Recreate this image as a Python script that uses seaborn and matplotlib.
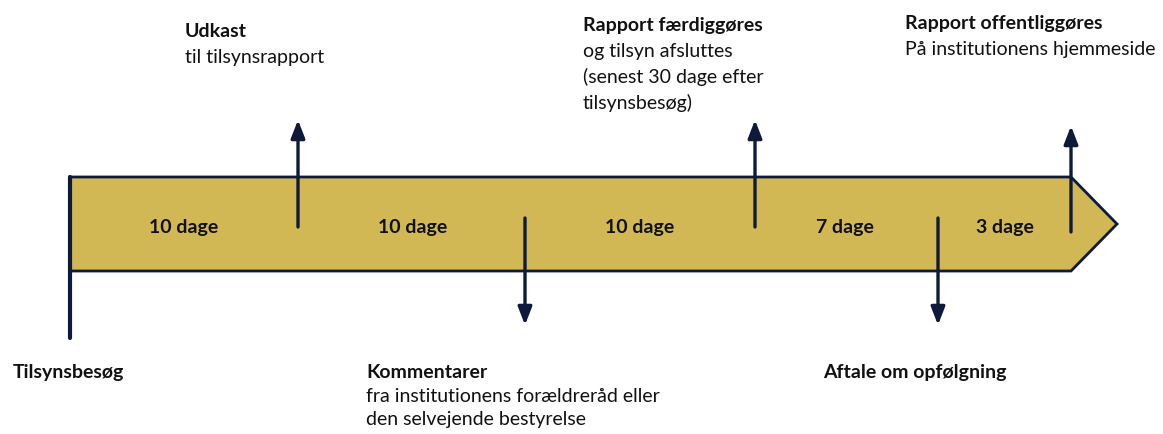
import matplotlib
matplotlib.use("Agg")
import matplotlib.pyplot as plt
import seaborn as sns
from matplotlib.patches import Polygon

sns.set_theme(style="white")
plt.rcParams['font.family'] = ['Lato', 'DejaVu Sans']

# --- data ---
segment_labels = ["10 dage", "10 dage", "10 dage", "7 dage", "3 dage"]
segment_centers = [184, 413, 640, 845, 1005]
event_x = [70, 298, 525, 755, 938, 1071]
event_dir = ["none", "up", "down", "up", "down", "up"]
event_titles = ["Tilsynsbesøg", "Udkast", "Kommentarer", "Rapport færdiggøres",
                "Aftale om opfølgning", "Rapport offentliggøres"]
event_texts = [[], ["til tilsynsrapport"],
               ["fra institutionens forældreråd eller", "den selvejende bestyrelse"],
               ["og tilsyn afsluttes", "(senest 30 dage efter", "tilsynsbesøg)"],
               [], ["På institutionens hjemmeside"]]
event_text_x = [13, 185, 366, 583, 823, 905]
event_text_base = [378, 37, 378, 31, 378, 29]

GOLD = "#D1B854"
NAVY = "#0E1A3A"
TXT = "#111111"
FS = 14

W, H = 1163, 434
fig = plt.figure(figsize=(W / 100, H / 100), dpi=100)
ax = fig.add_axes([0, 0, 1, 1])
ax.set_xlim(0, W)
ax.set_ylim(H, 0)
ax.axis("off")

top, bot, tip = 177, 271, 1117
start, end = event_x[0], event_x[-1]
mid = (top + bot) / 2

body = Polygon([(start, top), (end, top), (tip, mid), (end, bot), (start, bot)],
               closed=True, facecolor=GOLD, edgecolor=NAVY, linewidth=2.0, zorder=1,
               joinstyle="miter")
ax.add_patch(body)

# left vertical line for the start event
sns.lineplot(x=[start, start], y=[top, 338], ax=ax, color=NAVY, linewidth=3.0,
             estimator=None, sort=False, zorder=3)

# segment labels
for lab, cx in zip(segment_labels, segment_centers):
    ax.text(cx, 233, lab, ha="center", va="baseline", fontsize=FS,
            fontweight="bold", color=TXT, zorder=4)

# event arrows and texts
for x, d, title, lines, tx, tb in zip(event_x, event_dir, event_titles, event_texts,
                                      event_text_x, event_text_base):
    if d == "up":
        y0, y1 = (232, 126) if x == end else (227, 120)
        step = 26
    elif d == "down":
        y0, y1 = 218, 325
        step = 23.5
    else:
        y0 = y1 = None
        step = 24
    if y0 is not None:
        ax.annotate("", xy=(x, y1), xytext=(x, y0),
                    arrowprops=dict(arrowstyle="-|>,head_width=0.35,head_length=0.9",
                                    color=NAVY, lw=2.4, shrinkA=0, shrinkB=0),
                    zorder=5)
    ax.text(tx, tb, title, ha="left", va="baseline", fontsize=FS,
            fontweight="bold", color=TXT)
    for i, line in enumerate(lines):
        ax.text(tx, tb + step * (i + 1), line, ha="left", va="baseline",
                fontsize=FS, color=TXT)

fig.savefig("out.png", dpi=100)
